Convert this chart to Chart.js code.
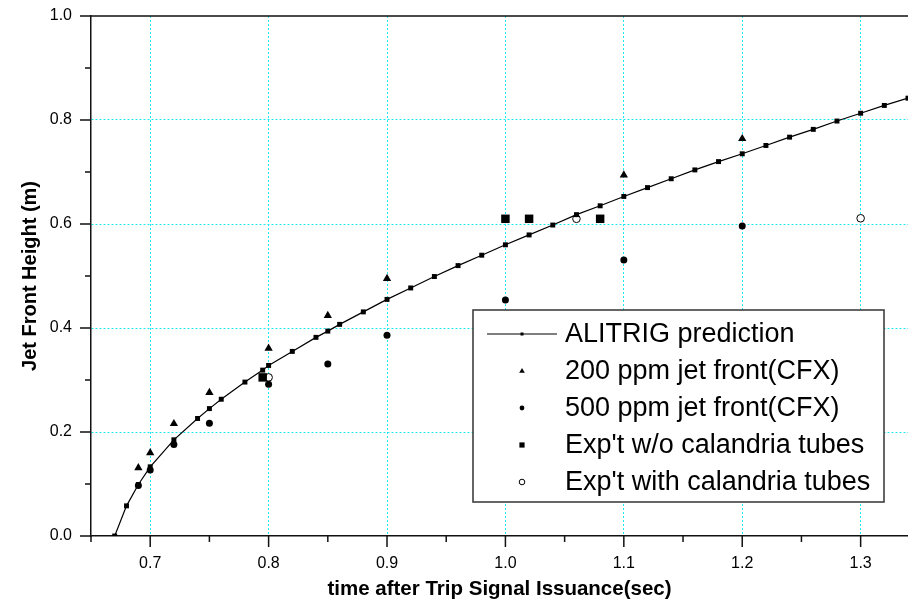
<!DOCTYPE html>
<html>
<head>
<meta charset="utf-8">
<script src="https://cdn.jsdelivr.net/npm/chart.js@4.4.1/dist/chart.umd.min.js"></script>
<style>
  html, body { margin: 0; padding: 0; background: #fff; }
  canvas { display: block; }
</style>
</head>
<body>
<canvas id="chart" width="908" height="603"></canvas>
<script>
// Data
const predT = [0.67, 0.68, 0.69, 0.70, 0.72, 0.74, 0.75, 0.76, 0.78, 0.795, 0.80, 0.82, 0.84, 0.85, 0.86, 0.88, 0.90, 0.92, 0.94, 0.96, 0.98, 1.00, 1.02, 1.04, 1.06, 1.08, 1.10, 1.12, 1.14, 1.16, 1.18, 1.20, 1.22, 1.24, 1.26, 1.28, 1.30, 1.32, 1.34];
const predH = [0.000, 0.058, 0.099, 0.133, 0.185, 0.226, 0.245, 0.263, 0.296, 0.319, 0.328, 0.355, 0.382, 0.394, 0.407, 0.431, 0.455, 0.477, 0.499, 0.520, 0.540, 0.560, 0.579, 0.598, 0.618, 0.635, 0.653, 0.670, 0.687, 0.704, 0.720, 0.735, 0.751, 0.767, 0.782, 0.798, 0.813, 0.828, 0.842];

const cfx200T = [0.69, 0.70, 0.72, 0.75, 0.80, 0.85, 0.90, 1.10, 1.20];
const cfx200H = [0.131, 0.160, 0.216, 0.276, 0.361, 0.424, 0.495, 0.694, 0.764];

const cfx500T = [0.69, 0.70, 0.72, 0.75, 0.80, 0.85, 0.90, 1.00, 1.10, 1.20];
const cfx500H = [0.097, 0.127, 0.176, 0.217, 0.292, 0.331, 0.386, 0.454, 0.531, 0.596];

const expNoTubeT = [0.795, 1.00, 1.02, 1.08];
const expNoTubeH = [0.305, 0.610, 0.610, 0.610];

const expTubeT = [0.80, 1.06, 1.30];
const expTubeH = [0.305, 0.610, 0.611];

const xTicks = [0.7, 0.8, 0.9, 1.0, 1.1, 1.2, 1.3];
const xMinor = [0.65, 0.75, 0.85, 0.95, 1.05, 1.15, 1.25];
const yTicks = [0.0, 0.2, 0.4, 0.6, 0.8, 1.0];
const yMinor = [0.1, 0.3, 0.5, 0.7, 0.9];

const FONT = "'Liberation Sans', Arial, sans-serif";
const GRID = '#1ee8f2';

function pts(xs, ys) {
    return xs.map((x, i) => ({ x: x, y: ys[i] }));
}

// drop the extra room Chart.js keeps for edge labels, the layout pads it by hand
function noEdgePad(s) {
    s.paddingTop = 0; s.paddingBottom = 0;
    s.paddingLeft = 0; s.paddingRight = 0;
}

// Top frame and tick marks (major long, minor short, pointing out)
const axisDecor = {
    id: 'axisDecor',
    afterDraw(chart) {
        const { ctx, chartArea: a, scales: { x, y } } = chart;
        ctx.save();
        ctx.strokeStyle = '#111';
        ctx.lineWidth = 1.5;
        ctx.beginPath();
        ctx.moveTo(a.left - 11, a.top);
        ctx.lineTo(a.right, a.top);
        xTicks.forEach(v => {
            const p = x.getPixelForValue(v);
            ctx.moveTo(p, a.bottom); ctx.lineTo(p, a.bottom + 11);
        });
        xMinor.forEach(v => {
            const p = x.getPixelForValue(v);
            ctx.moveTo(p, a.bottom); ctx.lineTo(p, a.bottom + 6);
        });
        yTicks.forEach(v => {
            const p = y.getPixelForValue(v);
            ctx.moveTo(a.left, p); ctx.lineTo(a.left - 11, p);
        });
        yMinor.forEach(v => {
            const p = y.getPixelForValue(v);
            ctx.moveTo(a.left, p); ctx.lineTo(a.left - 6, p);
        });
        ctx.stroke();
        ctx.restore();
    }
};

// Boxed legend inside the plot
const boxLegend = {
    id: 'boxLegend',
    afterDraw(chart) {
        const ctx = chart.ctx;
        const bx = 473, by = 310, bw = 411, bh = 192;
        ctx.save();
        ctx.fillStyle = '#fff';
        ctx.fillRect(bx, by, bw, bh);
        ctx.strokeStyle = '#333';
        ctx.lineWidth = 1.5;
        ctx.strokeRect(bx, by, bw, bh);

        const symX = 522;
        const rows = [334, 371, 408, 445, 482];
        ctx.font = '27px ' + FONT;
        ctx.textBaseline = 'middle';
        ctx.textAlign = 'left';
        chart.data.datasets.forEach((ds, i) => {
            const cy = rows[i];
            ctx.fillStyle = '#000';
            ctx.strokeStyle = '#000';
            ctx.lineWidth = 1;
            if (i === 0) {
                ctx.beginPath();
                ctx.moveTo(487, cy); ctx.lineTo(557, cy);
                ctx.stroke();
                ctx.fillRect(symX - 1.5, cy - 1.5, 3, 3);
            } else if (i === 1) {
                ctx.beginPath();
                ctx.moveTo(symX, cy - 3); ctx.lineTo(symX + 2.8, cy + 1.8); ctx.lineTo(symX - 2.8, cy + 1.8);
                ctx.closePath(); ctx.fill();
            } else if (i === 2) {
                ctx.beginPath(); ctx.arc(symX, cy, 2.4, 0, Math.PI * 2); ctx.fill();
            } else if (i === 3) {
                ctx.fillRect(symX - 2.6, cy - 2.6, 5.2, 5.2);
            } else {
                ctx.beginPath(); ctx.arc(symX, cy, 2.8, 0, Math.PI * 2);
                ctx.fillStyle = '#fff'; ctx.fill(); ctx.stroke();
            }
            ctx.fillStyle = '#000';
            ctx.fillText(ds.label, 565, cy + 1);
        });
        ctx.restore();
    }
};

const ctx = document.getElementById('chart').getContext('2d');
const chart = new Chart(ctx, {
    type: 'scatter',
    data: {
        datasets: [
            {
                label: 'ALITRIG prediction',
                data: pts(predT, predH),
                showLine: true,
                borderColor: '#000',
                borderWidth: 1.2,
                backgroundColor: '#000',
                pointStyle: 'rect',
                pointRadius: 3.5,
                pointBorderWidth: 0
            },
            {
                label: '200 ppm jet front(CFX)',
                data: pts(cfx200T, cfx200H),
                backgroundColor: '#000',
                pointStyle: 'triangle',
                pointRadius: 4.8,
                pointBorderWidth: 0
            },
            {
                label: '500 ppm jet front(CFX)',
                data: pts(cfx500T, cfx500H),
                backgroundColor: '#000',
                pointStyle: 'circle',
                pointRadius: 3.5,
                pointBorderWidth: 0
            },
            {
                label: "Exp't w/o calandria tubes",
                data: pts(expNoTubeT, expNoTubeH),
                backgroundColor: '#000',
                pointStyle: 'rect',
                pointRadius: 6,
                pointBorderWidth: 0
            },
            {
                label: "Exp't with calandria tubes",
                data: pts(expTubeT, expTubeH),
                backgroundColor: '#fff',
                borderColor: '#000',
                pointStyle: 'circle',
                pointRadius: 3.8,
                pointBorderWidth: 1
            }
        ]
    },
    options: {
        responsive: false,
        animation: false,
        devicePixelRatio: 1,
        layout: { autoPadding: false, padding: { top: 16, right: 0, left: 0, bottom: 0 } },
        plugins: {
            legend: { display: false },
            tooltip: { enabled: false }
        },
        scales: {
            x: {
                type: 'linear',
                min: 0.65,
                max: 1.34,
                afterBuildTicks: s => { s.ticks = xTicks.map(v => ({ value: v })); },
                afterFit: s => { s.height = 67; noEdgePad(s); },
                ticks: {
                    callback: v => v.toFixed(1),
                    font: { family: FONT, size: 16 },
                    color: '#000',
                    padding: 18,
                    maxRotation: 0,
                    autoSkip: false
                },
                grid: { color: GRID, lineWidth: 1, drawTicks: false },
                border: { display: true, color: '#111', width: 1.5, dash: [2, 2] },
                title: {
                    display: true,
                    text: 'time after Trip Signal Issuance(sec)',
                    font: { family: FONT, size: 20.5, weight: 'bold' },
                    color: '#000',
                    padding: { top: 0, bottom: 1 }
                }
            },
            y: {
                type: 'linear',
                min: 0,
                max: 1,
                afterBuildTicks: s => { s.ticks = yTicks.map(v => ({ value: v })); },
                afterFit: s => { s.width = 91; noEdgePad(s); },
                ticks: {
                    callback: v => v.toFixed(1),
                    font: { family: FONT, size: 16 },
                    color: '#000',
                    padding: 19
                },
                grid: {
                    color: c => (c.tick && (c.tick.value === 0 || c.tick.value === 1)) ? 'rgba(0,0,0,0)' : GRID,
                    lineWidth: 1,
                    drawTicks: false
                },
                border: { display: true, color: '#111', width: 1.5, dash: [2, 2] },
                title: {
                    display: true,
                    text: 'Jet Front Height (m)',
                    font: { family: FONT, size: 20, weight: 'bold' },
                    color: '#000',
                    padding: { top: 18, bottom: 0 }
                }
            }
        }
    },
    plugins: [axisDecor, boxLegend]
});
</script>
</body>
</html>
